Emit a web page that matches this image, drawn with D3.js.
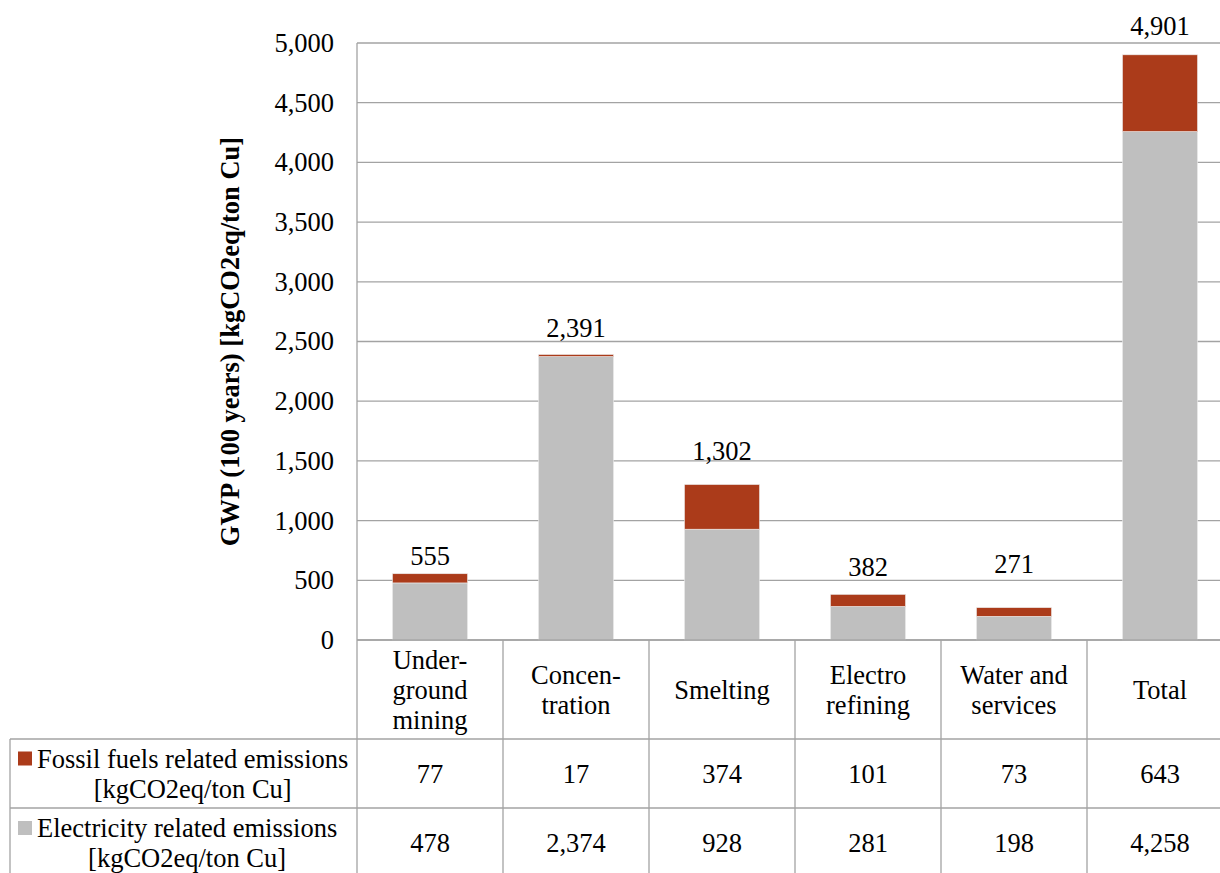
<!DOCTYPE html>
<html>
<head>
<meta charset="utf-8">
<script src="https://cdn.jsdelivr.net/npm/d3@7"></script>
<style>
  html, body { margin: 0; padding: 0; background: #fff; overflow: hidden; }
  svg { display: block; }
</style>
</head>
<body>
<svg id="chart" width="1220" height="873"></svg>
<script>
// ---- data ----
const categories = ["Under-ground mining", "Concentration", "Smelting", "Electro refining", "Water and services", "Total"];
const categoryLines = [["Under-", "ground", "mining"], ["Concen-", "tration"], ["Smelting"], ["Electro", "refining"], ["Water and", "services"], ["Total"]];
const fossilValues = [77, 17, 374, 101, 73, 643];
const electricityValues = [478, 2374, 928, 281, 198, 4258];
const totalLabels = ["555", "2,391", "1,302", "382", "271", "4,901"];
const fossilLabels = ["77", "17", "374", "101", "73", "643"];
const electricityLabels = ["478", "2,374", "928", "281", "198", "4,258"];
const yTickValues = [0, 500, 1000, 1500, 2000, 2500, 3000, 3500, 4000, 4500, 5000];
const seriesNames = [["Fossil fuels related emissions", "[kgCO2eq/ton Cu]"], ["Electricity related emissions", "[kgCO2eq/ton Cu]"]];
const yTitle = "GWP (100 years) [kgCO2eq/ton Cu]";

// ---- layout ----
const FONT = "Liberation Serif";
const colors = { fossil: "#ab3b1a", elec: "#bfbfbf", grid: "#a3a3a3" };
const fs = 26.5;
const plotLeft = 357, plotRight = 1233, plotTop = 43, plotBottom = 640;
const tableLeft = 10, rowH1 = 640, rowH2 = 739, rowH3 = 808, tableBottom = 878;
const labelGap = [9, 18, 25, 18, 35, 20]; // px between bar top and total-label baseline

const svg = d3.select("#chart");

const x = d3.scaleBand().domain(categories).range([plotLeft, plotRight]).paddingInner(0).paddingOuter(0);
const xb = d3.scaleBand().domain(categories).range([plotLeft, plotRight]).paddingInner(0.486).paddingOuter(0.243);
const y = d3.scaleLinear().domain([0, 5000]).range([plotBottom, plotTop]);

function txt(sel) { return sel.attr("font-family", FONT).attr("font-size", fs).attr("fill", "#000"); }

// gridlines
svg.append("g").selectAll("line").data(yTickValues).join("line")
  .attr("x1", plotLeft).attr("x2", plotRight)
  .attr("y1", d => y(d)).attr("y2", d => y(d))
  .attr("stroke", colors.grid).attr("stroke-width", 1.3);

// y axis
const yAxis = svg.append("g").attr("transform", `translate(${plotLeft},0)`)
  .call(d3.axisLeft(y).tickValues(yTickValues).tickFormat(d3.format(",")).tickSize(0).tickPadding(23));
yAxis.attr("font-family", FONT).attr("font-size", fs);
yAxis.select(".domain").remove();
txt(yAxis.selectAll("text"));

// stacked bars
const stackData = categories.map((c, i) => ({ cat: c, elec: electricityValues[i], fossil: fossilValues[i] }));
const stack = d3.stack().keys(["elec", "fossil"])(stackData);
svg.append("g").selectAll("g").data(stack).join("g")
  .attr("fill", d => d.key === "elec" ? colors.elec : colors.fossil)
  .selectAll("rect").data(d => d).join("rect")
  .attr("x", d => xb(d.data.cat))
  .attr("width", xb.bandwidth())
  .attr("y", d => y(d[1]))
  .attr("height", d => y(d[0]) - y(d[1]))
  .attr("stroke", "#ececec").attr("stroke-width", 0.6);

// total labels
txt(svg.append("g").selectAll("text").data(categories).join("text"))
  .attr("x", d => x(d) + x.bandwidth() / 2)
  .attr("y", (d, i) => y(fossilValues[i] + electricityValues[i]) - labelGap[i])
  .attr("text-anchor", "middle")
  .text((d, i) => totalLabels[i]);

// table lines
const tl = svg.append("g").attr("stroke", colors.grid).attr("stroke-width", 1.3);
tl.append("line").attr("x1", plotLeft).attr("x2", plotRight).attr("y1", rowH1).attr("y2", rowH1);
tl.append("line").attr("x1", tableLeft).attr("x2", plotRight).attr("y1", rowH2).attr("y2", rowH2);
tl.append("line").attr("x1", tableLeft).attr("x2", plotRight).attr("y1", rowH3).attr("y2", rowH3);
tl.append("line").attr("x1", tableLeft).attr("x2", tableLeft).attr("y1", rowH2).attr("y2", tableBottom);
tl.append("line").attr("x1", plotLeft).attr("x2", plotLeft).attr("y1", plotTop).attr("y2", tableBottom);
tl.selectAll(".colsep").data(categories.slice(1)).join("line")
  .attr("x1", d => x(d)).attr("x2", d => x(d)).attr("y1", rowH1).attr("y2", tableBottom);

// category labels
const lineH = 30;
txt(svg.append("g").selectAll("text").data(categories).join("text"))
  .attr("text-anchor", "middle")
  .each(function(d, i) {
    const lines = categoryLines[i];
    const cy = (rowH1 + rowH2) / 2;
    const start = cy - (lines.length - 1) * lineH / 2;
    d3.select(this).selectAll("tspan").data(lines).join("tspan")
      .attr("x", x(d) + x.bandwidth() / 2)
      .attr("y", (l, j) => start + j * lineH)
      .attr("dy", "0.35em")
      .text(l => l);
  });

// value rows with legend keys
const rows = [{ y0: rowH2, y1: rowH3, labels: fossilLabels, color: colors.fossil, name: seriesNames[0] },
              { y0: rowH3, y1: tableBottom, labels: electricityLabels, color: colors.elec, name: seriesNames[1] }];
rows.forEach(r => {
  const cy = (r.y0 + r.y1) / 2;
  txt(svg.append("g").selectAll("text").data(categories).join("text"))
    .attr("x", d => x(d) + x.bandwidth() / 2)
    .attr("y", cy).attr("dy", "0.35em")
    .attr("text-anchor", "middle")
    .text((d, i) => r.labels[i]);
  const l1y = cy - 15, l2y = cy + 15;
  svg.append("rect").attr("x", 18).attr("y", l1y - 7).attr("width", 14).attr("height", 14).attr("fill", r.color);
  const t1 = txt(svg.append("text")).attr("x", 37).attr("y", l1y).attr("dy", "0.35em").text(r.name[0]);
  const w = t1.node().getComputedTextLength();
  txt(svg.append("text")).attr("x", 37 + w / 2).attr("y", l2y).attr("dy", "0.35em")
    .attr("text-anchor", "middle").text(r.name[1]);
});

// y axis title
txt(svg.append("text"))
  .attr("transform", `translate(230,${(plotTop + plotBottom) / 2}) rotate(-90)`)
  .attr("text-anchor", "middle").attr("dy", "0.35em")
  .attr("font-weight", "bold")
  .text(yTitle);
</script>
</body>
</html>
